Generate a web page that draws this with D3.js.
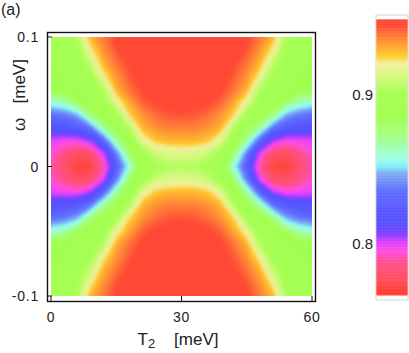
<!DOCTYPE html>
<html>
<head>
<meta charset="utf-8">
<script src="https://cdn.jsdelivr.net/npm/d3@7"></script>
<style>
  html, body { margin: 0; padding: 0; background: #fff; }
  text { font-family: "Liberation Sans", Arial, sans-serif; fill: #222; }
</style>
</head>
<body>
<div id="chart"></div>
<script>
const tValues = d3.range(0, 61, 3);
const omegaValues = d3.range(10, -11, -1).map(d => d / 100);

// one row per omega from 0.1 down to -0.1
const sigma = [
  [.892,.894,.904,.930,.940,.948,.951,.951,.951,.951,.951,.951,.951,.951,.951,.948,.940,.930,.904,.894,.892],
  [.892,.893,.899,.921,.936,.946,.950,.951,.951,.951,.951,.951,.951,.951,.950,.946,.936,.921,.899,.893,.892],
  [.891,.892,.896,.909,.930,.941,.948,.951,.951,.951,.951,.951,.951,.951,.948,.941,.930,.909,.896,.892,.891],
  [.890,.891,.894,.899,.921,.936,.945,.950,.951,.951,.951,.951,.951,.950,.945,.936,.921,.899,.894,.891,.890],
  [.888,.890,.892,.896,.905,.931,.941,.948,.950,.951,.951,.951,.950,.948,.941,.931,.905,.896,.892,.890,.888],
  [.860,.866,.882,.892,.897,.918,.933,.944,.948,.949,.950,.949,.948,.944,.933,.918,.897,.892,.882,.866,.860],
  [.835,.838,.847,.875,.890,.900,.925,.936,.942,.945,.946,.945,.942,.936,.925,.900,.890,.875,.847,.838,.835],
  [.818,.820,.825,.836,.868,.888,.906,.930,.936,.939,.939,.939,.936,.930,.906,.888,.868,.836,.825,.820,.818],
  [.800,.798,.797,.806,.830,.868,.893,.917,.927,.930,.930,.930,.927,.917,.893,.868,.830,.806,.797,.798,.800],
  [.794,.786,.777,.780,.800,.838,.878,.897,.911,.915,.916,.915,.911,.897,.878,.838,.800,.780,.777,.786,.794],
  [.790,.779,.770,.771,.788,.826,.858,.892,.900,.904,.905,.904,.900,.892,.858,.826,.788,.771,.770,.779,.790],
  [.794,.786,.777,.780,.800,.838,.878,.897,.911,.915,.916,.915,.911,.897,.878,.838,.800,.780,.777,.786,.794],
  [.800,.798,.797,.806,.830,.868,.893,.917,.927,.930,.930,.930,.927,.917,.893,.868,.830,.806,.797,.798,.800],
  [.818,.820,.825,.836,.868,.888,.906,.930,.936,.939,.939,.939,.936,.930,.906,.888,.868,.836,.825,.820,.818],
  [.835,.838,.847,.875,.890,.900,.925,.936,.942,.945,.946,.945,.942,.936,.925,.900,.890,.875,.847,.838,.835],
  [.860,.866,.882,.892,.897,.918,.933,.944,.948,.949,.950,.949,.948,.944,.933,.918,.897,.892,.882,.866,.860],
  [.888,.890,.892,.896,.905,.931,.941,.948,.950,.951,.951,.951,.950,.948,.941,.931,.905,.896,.892,.890,.888],
  [.890,.891,.894,.899,.921,.936,.945,.950,.951,.951,.951,.951,.951,.950,.945,.936,.921,.899,.894,.891,.890],
  [.891,.892,.896,.909,.930,.941,.948,.951,.951,.951,.951,.951,.951,.951,.948,.941,.930,.909,.896,.892,.891],
  [.892,.893,.899,.921,.936,.946,.950,.951,.951,.951,.951,.951,.951,.951,.950,.946,.936,.921,.899,.893,.892],
  [.892,.894,.904,.930,.940,.948,.951,.951,.951,.951,.951,.951,.951,.951,.951,.948,.940,.930,.904,.894,.892]
];

const xTicks = [0, 30, 60];
const xTickLabels = ["0", "30", "60"];
const yTicks = [0.1, 0, -0.1];
const yTickLabels = ["0.1", "0", "-0.1"];
const barTicks = [0.9, 0.8];

// colour bar stops, bottom to top
const colorStops = [.768, .777, .788, .795, .801, .807, .813, .823, .836, .848, .852, .858, .868, .8765, .8866, .902, .9134, .9215, .9255, .9336, .940, .947];
const colorHexes = ["#ff4030", "#ff5060", "#ff5090", "#ff50e0", "#e040ff", "#8040ff", "#5850ff", "#5858ff", "#6070ff", "#80b0f0", "#80f0ff", "#a0ffe0", "#a0ffa0", "#a8ff70", "#a0ff50", "#a8ff55", "#d8f880", "#f0f0a0", "#ffd030", "#ffa030", "#ff7a38", "#ff4a36"];

const width = 409, height = 353;

const svg = d3.select("#chart").append("svg")
    .attr("width", width)
    .attr("height", height)
    .style("display", "block");

const x = d3.scaleLinear().domain([0, 60]).range([51, 312]);
const y = d3.scaleLinear().domain([0.1, -0.1]).range([37, 296]);
const color = d3.scaleLinear().domain(colorStops).range(colorHexes).clamp(true);

// Heat map as filled contours of the grid
const defs = svg.append("defs");
defs.append("clipPath").attr("id", "map-clip")
  .append("rect")
    .attr("x", x(0)).attr("y", y(0.1))
    .attr("width", x(60) - x(0)).attr("height", y(-0.1) - y(0.1));
defs.append("filter").attr("id", "soft")
    .attr("x", "-5%").attr("y", "-5%").attr("width", "110%").attr("height", "110%")
  .append("feGaussianBlur").attr("stdDeviation", 1.5);

const thresholds = d3.range(0.76, 0.952, 0.001);
const contours = d3.contours()
    .size([tValues.length, omegaValues.length])
    .thresholds(thresholds)(sigma.flat());

// contour coordinates put grid point i at i + 0.5
const cx = d3.scaleLinear().domain([0.5, tValues.length - 0.5]).range([x(0), x(60)]);
const cy = d3.scaleLinear().domain([0.5, omegaValues.length - 0.5]).range([y(0.1), y(-0.1)]);
const path = d3.geoPath(d3.geoTransform({
    point(px, py) { this.stream.point(cx(px), cy(py)); }
}));

svg.append("g").attr("clip-path", "url(#map-clip)")
  .append("g").attr("filter", "url(#soft)")
  .selectAll("path")
  .data(contours)
  .join("path")
    .attr("d", path)
    .attr("fill", d => color(d.value + 0.0005));

// Frame and ticks
svg.append("rect")
    .attr("x", 47.5).attr("y", 32.5)
    .attr("width", 268).attr("height", 269)
    .attr("fill", "none").attr("stroke", "#111").attr("stroke-width", 1.4);

svg.selectAll(".x-tick")
  .data(xTicks)
  .join("line").attr("class", "x-tick")
    .attr("x1", d => x(d)).attr("x2", d => x(d))
    .attr("y1", 296).attr("y2", 301)
    .attr("stroke", "#111").attr("stroke-width", 1);

svg.selectAll(".y-tick")
  .data(yTicks)
  .join("line").attr("class", "y-tick")
    .attr("x1", 47).attr("x2", 52)
    .attr("y1", d => y(d)).attr("y2", d => y(d))
    .attr("stroke", "#111").attr("stroke-width", 1);

svg.selectAll(".x-label")
  .data(xTicks)
  .join("text").attr("class", "x-label")
    .attr("x", d => x(d))
    .attr("y", 322)
    .attr("text-anchor", "middle")
    .style("font-size", "14px")
    .style("letter-spacing", "0.6px")
    .text((d, i) => xTickLabels[i]);

svg.selectAll(".y-label")
  .data(yTicks)
  .join("text").attr("class", "y-label")
    .attr("x", 39)
    .attr("y", d => y(d) + 5)
    .attr("text-anchor", "end")
    .style("font-size", "14px")
    .style("letter-spacing", "0.8px")
    .text((d, i) => yTickLabels[i]);

svg.append("text")
    .attr("x", 1).attr("y", 15)
    .style("font-size", "16px")
    .text("(a)");

const xTitle = svg.append("text")
    .attr("x", 178).attr("y", 345)
    .attr("text-anchor", "middle")
    .style("font-size", "17px");
xTitle.append("tspan").text("T");
xTitle.append("tspan").attr("dy", 3).style("font-size", "13px").text("2");
xTitle.append("tspan").attr("dy", -3).text("\u00a0\u00a0\u00a0\u00a0[meV]");

svg.append("text")
    .attr("transform", "translate(25,95) rotate(-90)")
    .attr("text-anchor", "middle")
    .style("font-size", "17px")
    .text("\u03c9\u00a0\u00a0\u00a0[meV]");

// Colour bar
const barY = d3.scaleLinear().domain([0.9, 0.8]).range([95, 244]);
const barTop = barY.invert(19.5), barBottom = barY.invert(295);

svg.append("rect")
    .attr("x", 376).attr("y", 15)
    .attr("width", 32).attr("height", 285)
    .attr("fill", "#fff").attr("stroke", "#d8cfc8");

svg.selectAll(".bar-cell")
  .data(d3.range(barBottom, barTop, 0.0005))
  .join("rect").attr("class", "bar-cell")
    .attr("x", 376.5).attr("width", 31)
    .attr("y", d => barY(d + 0.0005))
    .attr("height", d => barY(d) - barY(d + 0.0005) + 0.5)
    .attr("fill", d => color(d));

svg.selectAll(".bar-label")
  .data(barTicks)
  .join("text").attr("class", "bar-label")
    .attr("x", 373)
    .attr("y", d => barY(d) + 5)
    .attr("text-anchor", "end")
    .style("font-size", "15px")
    .text(d => d.toFixed(1));
</script>
</body>
</html>
